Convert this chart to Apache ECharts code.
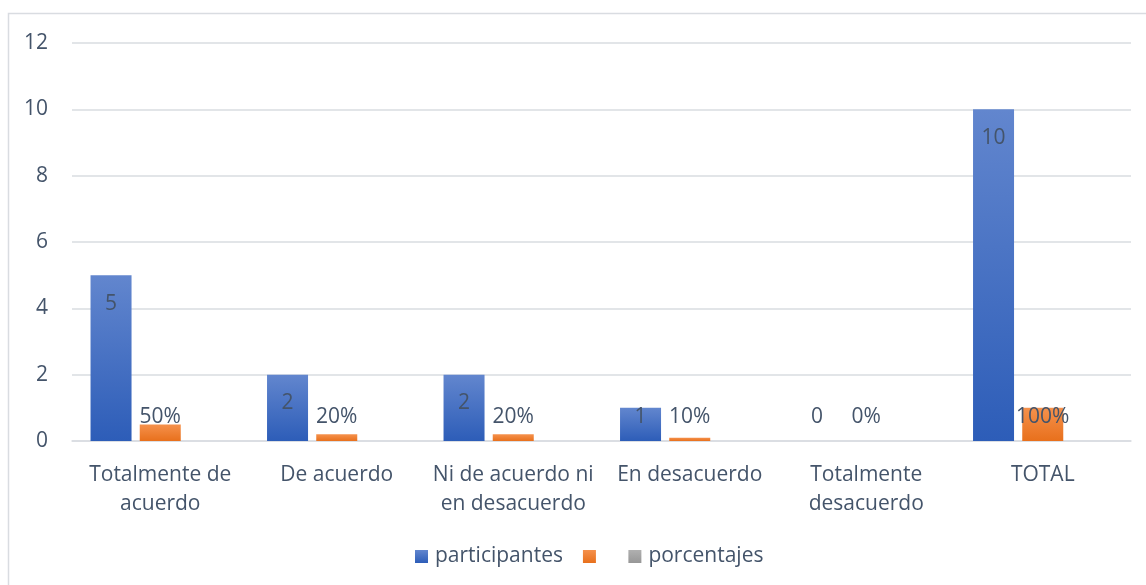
<!DOCTYPE html>
<html>
<head>
<meta charset="utf-8">
<script src="https://cdn.jsdelivr.net/npm/echarts@6/dist/echarts.min.js"></script>
<style>
  html, body { margin: 0; padding: 0; background: #fff; }
  #chart { width: 1146px; height: 585px; }
</style>
</head>
<body>
<div id="chart"></div>
<script>
// datos
const categorias = ['Totalmente de\nacuerdo', 'De acuerdo', 'Ni de acuerdo ni\nen desacuerdo', 'En desacuerdo', 'Totalmente\ndesacuerdo', 'TOTAL']
const participantes = [5, 2, 2, 1, 0, 10]
const proporcion = [0.5, 0.2, 0.2, 0.1, 0, 1]
const porcentajes = []
const ticksY = [0, 2, 4, 6, 8, 10, 12]

const textColor = '#44546A'
const fontFamily = '"Open Sans", Lato, sans-serif'
const fs = 21

function grad(top, bottom) {
  return new echarts.graphic.LinearGradient(0, 0, 0, 1, [
    { offset: 0, color: top },
    { offset: 1, color: bottom }
  ])
}

const chart = echarts.init(document.getElementById('chart'))

chart.setOption({
  animation: false,
  textStyle: { fontFamily: fontFamily },
  graphic: [
    {
      type: 'rect',
      shape: { x: 8.5, y: 13.5, width: 1300, height: 700 },
      style: { fill: 'none', stroke: '#D9DCE1', lineWidth: 1.5 },
      silent: true
    }
  ],
  legend: {
    left: 410,
    top: 541,
    itemWidth: 13,
    itemHeight: 13,
    itemGap: 20,
    icon: 'rect',
    textStyle: { color: textColor, fontSize: fs, fontFamily: fontFamily, padding: [0, 0, 0, 2] },
    data: ['participantes', ' ', 'porcentajes']
  },
  grid: {
    left: 72,
    right: 15,
    top: 43,
    bottom: 144,
    containLabel: false
  },
  xAxis: {
    type: 'category',
    data: categorias,
    axisLine: { lineStyle: { color: '#D9DCE1', width: 1.5 } },
    axisTick: { show: false },
    axisLabel: {
      color: textColor,
      fontSize: fs,
      lineHeight: 29,
      margin: 20,
      interval: 0
    }
  },
  yAxis: {
    type: 'value',
    min: ticksY[0],
    max: ticksY[ticksY.length - 1],
    interval: 2,
    axisLine: { show: false },
    axisTick: { show: false },
    splitLine: { lineStyle: { color: '#D9DCE1', width: 1.5 } },
    axisLabel: { color: textColor, fontSize: fs, margin: 24 }
  },
  series: [
    {
      name: 'participantes',
      type: 'bar',
      barGap: '20%',
      barCategoryGap: '21%',
      itemStyle: { color: grad('#6286CE', '#2D5DB8') },
      label: {
        show: true,
        position: 'insideTop',
        distance: 18,
        color: textColor,
        fontSize: fs
      },
      data: participantes.map(v => ({
        value: v,
        label: v < 2 ? { position: 'insideBottom', distance: 13 } : {}
      }))
    },
    {
      name: ' ',
      type: 'bar',
      itemStyle: { color: grad('#F5914C', '#E8701C') },
      label: {
        show: true,
        position: 'insideBottom',
        distance: 13,
        color: textColor,
        fontSize: fs,
        formatter: p => Math.round(p.value * 100) + '%'
      },
      data: proporcion
    },
    {
      name: 'porcentajes',
      type: 'bar',
      itemStyle: { color: grad('#B0B0B0', '#979797') },
      data: porcentajes
    }
  ]
})
</script>
</body>
</html>
